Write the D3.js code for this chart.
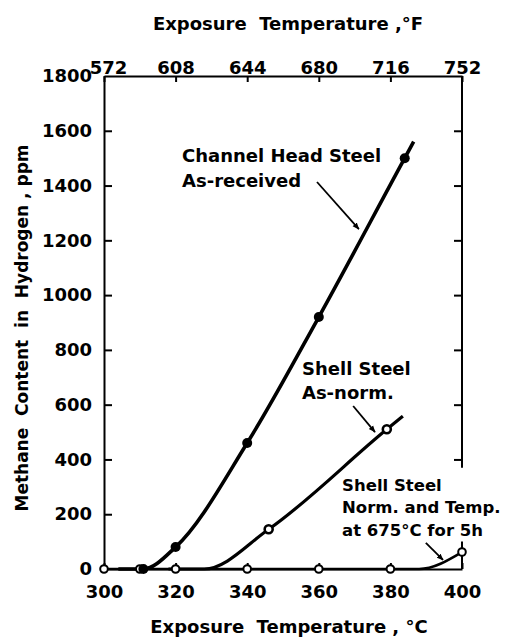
<!DOCTYPE html>
<html>
<head>
<meta charset="utf-8">
<script src="https://cdn.jsdelivr.net/npm/d3@7"></script>
<style>
  body { margin: 0; background: #fff; }
  text { font-family: "DejaVu Sans", sans-serif; font-weight: bold; fill: #000; white-space: pre; }
  .axis path, .axis line { stroke: #000; stroke-width: 2; }
  .axis text { font-size: 18px; }
</style>
</head>
<body>
<div class="chart"></div>
<script>
// axis ticks
var celsiusTicks = [300, 320, 340, 360, 380, 400];
var fahrenheitTicks = [572, 608, 644, 680, 716, 752];
var ppmTicks = [0, 200, 400, 600, 800, 1000, 1200, 1400, 1600, 1800];

// Channel Head Steel, as-received (filled points)
var headTemp = [311, 320, 340, 360, 384];
var headPpm = [0, 80, 460, 920, 1500];
// curve knots
var headCurveTemp = [304, 311, 320, 340, 360, 384, 386.5];
var headCurvePpm = [0, 0, 80, 460, 920, 1500, 1560];

// Shell Steel, as-normalized
var normTemp = [346, 379];
var normPpm = [145, 510];
var normCurveTemp = [318, 328, 346, 379, 383.5];
var normCurvePpm = [0, 0, 145, 510, 558];

// Shell Steel, normalized and tempered
var temperTemp = [300, 310, 320, 340, 360, 380, 400];
var temperPpm = [0, 0, 0, 0, 0, 0, 62];
var temperCurveTemp = [300, 310, 320, 340, 360, 380, 388, 400];
var temperCurvePpm = [0, 0, 0, 0, 0, 0, 0, 62];

// labels: [temp, ppm] of first baseline, then the text lines
var notes = [
  { at: [321.8, 1486], lines: ["Channel Head Steel", "As-received"], gap: 25, size: 18, arrow: [[359.5, 1413], [371.2, 1241]] },
  { at: [355.3, 708], lines: ["Shell Steel", "As-norm."], gap: 24, size: 18, arrow: [[369.6, 595], [375.7, 500]] },
  { at: [366.5, 285], lines: ["Shell Steel", "Norm. and Temp.", "at 675\u00b0C for 5h"], gap: 22.5, size: 16.5, arrow: [[389.9, 95], [394.7, 33]] }
];
var rightAxisGap = [100, 370];

var width = 512, height = 639;
var svg = d3.select(".chart").append("svg")
    .attr("width", width)
    .attr("height", height);

var x = d3.scaleLinear().domain([300, 400]).range([104, 462]);
var xF = d3.scaleLinear().domain([572, 752]).range([104, 462]);
var y = d3.scaleLinear().domain([0, 1800]).range([569, 76]);

svg.append("defs").append("marker")
    .attr("id", "head")
    .attr("viewBox", "0 0 10 10")
    .attr("refX", 9).attr("refY", 5)
    .attr("markerWidth", 7).attr("markerHeight", 7)
    .attr("markerUnits", "userSpaceOnUse")
    .attr("orient", "auto")
    .append("path")
    .attr("d", "M0,1L10,5L0,9z")
    .attr("fill", "#000");

// axes
svg.append("g")
    .attr("class", "axis")
    .attr("transform", "translate(0," + y(0) + ")")
    .call(d3.axisBottom(x).tickValues(celsiusTicks).tickSizeInner(-6).tickSizeOuter(0).tickPadding(16));

svg.append("g")
    .attr("class", "axis")
    .attr("transform", "translate(0," + y(1800) + ")")
    .call(d3.axisTop(xF).tickValues(fahrenheitTicks).tickSizeInner(-6).tickSizeOuter(0).tickPadding(2))
    .selectAll(".tick text").attr("dx", function(d) { return d === 572 ? 4 : 0; });

svg.append("g")
    .attr("class", "axis")
    .attr("transform", "translate(" + x(300) + ",0)")
    .call(d3.axisLeft(y).tickValues(ppmTicks).tickSizeInner(-8).tickSizeOuter(0).tickPadding(12).tickFormat(d3.format("d")));

// right axis, broken where the last label sits
var right = svg.append("g")
    .attr("class", "axis")
    .attr("transform", "translate(" + x(400) + ",0)")
    .call(d3.axisRight(y)
        .tickValues(ppmTicks.filter(function(d) { return d < rightAxisGap[0] || d > rightAxisGap[1]; }))
        .tickSizeInner(-8).tickSizeOuter(0).tickFormat(""));
right.select(".domain").remove();
[[0, rightAxisGap[0]], [rightAxisGap[1], 1800]].forEach(function(s) {
    right.append("line")
        .attr("y1", y(s[0])).attr("y2", y(s[1]))
        .attr("stroke", "#000").attr("stroke-width", 2);
});

svg.selectAll(".axis .tick").filter(function(d) { return d === 0 || d === 1800; })
    .select("line").remove();

// curves
var line = d3.line()
    .curve(d3.curveMonotoneX)
    .x(function(d) { return x(d[0]); })
    .y(function(d) { return y(d[1]); });

function pairs(a, b) { return a.map(function(v, i) { return [v, b[i]]; }); }

[[temperCurveTemp, temperCurvePpm, 2.6], [normCurveTemp, normCurvePpm, 3.2], [headCurveTemp, headCurvePpm, 3.6]]
    .forEach(function(c) {
        svg.append("path")
            .datum(pairs(c[0], c[1]))
            .attr("d", line)
            .attr("fill", "none")
            .attr("stroke", "#000")
            .attr("stroke-width", c[2]);
    });

// markers
svg.selectAll(".temper").data(pairs(temperTemp, temperPpm)).enter()
    .append("circle")
    .attr("cx", function(d) { return x(d[0]); })
    .attr("cy", function(d) { return y(d[1]); })
    .attr("r", 3.8)
    .attr("fill", "#fff").attr("stroke", "#000").attr("stroke-width", 2);

svg.selectAll(".norm").data(pairs(normTemp, normPpm)).enter()
    .append("circle")
    .attr("cx", function(d) { return x(d[0]); })
    .attr("cy", function(d) { return y(d[1]); })
    .attr("r", 4)
    .attr("fill", "#fff").attr("stroke", "#000").attr("stroke-width", 2.6);

svg.selectAll(".head").data(pairs(headTemp, headPpm)).enter()
    .append("circle")
    .attr("cx", function(d) { return x(d[0]); })
    .attr("cy", function(d) { return y(d[1]); })
    .attr("r", 5)
    .attr("fill", "#000");

// annotations
notes.forEach(function(n) {
    var t = svg.append("text")
        .attr("x", x(n.at[0]))
        .attr("y", y(n.at[1]))
        .style("font-size", n.size + "px");
    n.lines.forEach(function(s, i) {
        t.append("tspan")
            .attr("x", x(n.at[0]))
            .attr("dy", i === 0 ? 0 : n.gap)
            .text(s);
    });
    svg.append("line")
        .attr("x1", x(n.arrow[0][0])).attr("y1", y(n.arrow[0][1]))
        .attr("x2", x(n.arrow[1][0])).attr("y2", y(n.arrow[1][1]))
        .attr("stroke", "#000").attr("stroke-width", 1.8)
        .attr("marker-end", "url(#head)");
});

// titles
svg.append("text")
    .attr("x", 288).attr("y", 30)
    .attr("text-anchor", "middle")
    .style("font-size", "18px")
    .text("Exposure  Temperature ,\u00b0F");

svg.append("text")
    .attr("x", 289).attr("y", 633)
    .attr("text-anchor", "middle")
    .style("font-size", "18px")
    .text("Exposure  Temperature , \u00b0C");

svg.append("text")
    .attr("transform", "translate(28,328) rotate(-90)")
    .attr("text-anchor", "middle")
    .style("font-size", "17px")
    .text("Methane  Content  in  Hydrogen , ppm");
</script>
</body>
</html>
